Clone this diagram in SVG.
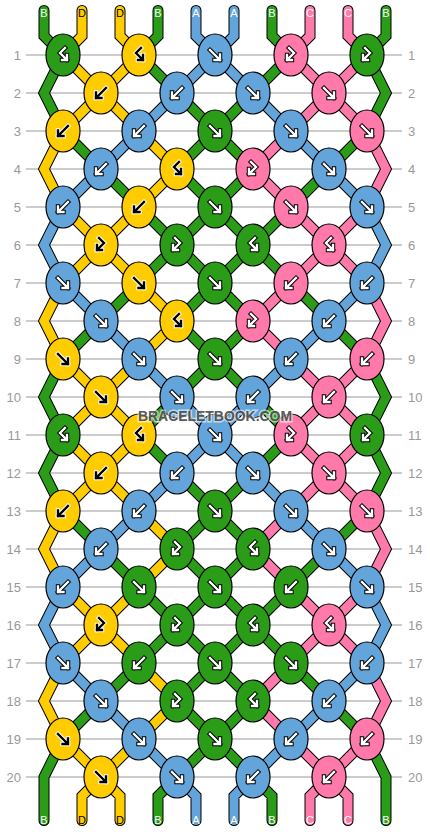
<svg xmlns="http://www.w3.org/2000/svg" xmlns:xlink="http://www.w3.org/1999/xlink" width="430" height="832" viewBox="0 0 430 832">
<style>
.G{fill:#2a9c17}.Y{fill:#ffcc00}.A{fill:#63a4da}.C{fill:#ff7aab}
ellipse{stroke:#000;stroke-width:1.2}
.ar{fill:none;stroke-linecap:square;stroke-linejoin:miter}
.wo{stroke:#000;stroke-width:4.4}.wi{stroke:#fff;stroke-width:2.4}
.bo{stroke:#fff;stroke-width:4.4}.bi{stroke:#000;stroke-width:2.4}
.num{font-family:"Liberation Sans",Arial,sans-serif;font-size:13px;fill:#999}
.lab{font-family:"Liberation Sans",Arial,sans-serif;font-size:11px;text-anchor:middle}
.rl{stroke:#bbb;stroke-width:1.5}
</style>
<defs>
<path id="pF" class="ar" d="M-5,-5L5,5M5,-0.5V5H-0.5"/>
<path id="pB" class="ar" d="M5,-5L-5,5M-5,-0.5V5H0.5"/>
<path id="pFB" class="ar" d="M2,-7L-3,-2L4,5M4,0V5H-1"/>
<path id="pBF" class="ar" d="M-2,-7L3,-2L-4,5M-4,0V5H1"/>
<g id="Fw"><use href="#pF" class="wo"/><use href="#pF" class="wi"/></g>
<g id="Fb"><use href="#pF" class="bo"/><use href="#pF" class="bi"/></g>
<g id="Bw"><use href="#pB" class="wo"/><use href="#pB" class="wi"/></g>
<g id="Bb"><use href="#pB" class="bo"/><use href="#pB" class="bi"/></g>
<g id="FBw"><use href="#pFB" class="wo"/><use href="#pFB" class="wi"/></g>
<g id="FBb"><use href="#pFB" class="bo"/><use href="#pFB" class="bi"/></g>
<g id="BFw"><use href="#pBF" class="wo"/><use href="#pBF" class="wi"/></g>
<g id="BFb"><use href="#pBF" class="bo"/><use href="#pBF" class="bi"/></g>
<path id="cG" d="M139,55L177,93M291,55L253,93M177,93L215,131M253,93L215,131M63,131L101,169M215,131L177,169M215,131L253,169M367,131L329,169M101,169L139,207M177,169L215,207M253,169L215,207M329,169L291,207M139,207L177,245M215,207L177,245M215,207L253,245M291,207L253,245M177,245L139,283M177,245L215,283M253,245L215,283M253,245L291,283M139,283L101,321M215,283L177,321M215,283L253,321M291,283L329,321M101,321L63,359M177,321L215,359M253,321L215,359M329,321L367,359M215,359L177,397M215,359L253,397"/>
<path id="xG" d="M44,10.5L44,36L63,55L44,93L63,131M63,359L44,397L63,435L44,473L63,511M63,739L44,777L44,820.5M386,10.5L386,36L367,55L386,93L367,131M367,359L386,397L367,435L386,473L367,511M367,739L386,777L386,820.5M158,10.5L158,36L139,55M272,10.5L272,36L291,55M177,777L158,796L158,820.5M253,777L272,796L272,820.5M177,397L139,435M253,397L291,435"/>
<path id="cY" d="M63,55L101,93M139,55L101,93M101,93L63,131M101,93L139,131M139,131L177,169M177,169L139,207M63,207L101,245M139,207L101,245M101,245L63,283M101,245L139,283M139,283L177,321M177,321L139,359M63,359L101,397M139,359L101,397"/>
<path id="xY" d="M63,131L44,169L63,207M63,283L44,321L63,359M63,511L44,549L63,587M63,663L44,701L63,739M82,10.5L82,36L63,55M120,10.5L120,36L139,55M101,777L82,796L82,820.5M101,777L120,796L120,820.5M101,397L63,435M101,397L139,435"/>
<path id="cA" d="M215,55L177,93M215,55L253,93M177,93L139,131M253,93L291,131M139,131L101,169M291,131L329,169M101,169L63,207M329,169L367,207M63,283L101,321M367,283L329,321M101,321L139,359M329,321L291,359M139,359L177,397M291,359L253,397"/>
<path id="xA" d="M63,207L44,245L63,283M63,587L44,625L63,663M367,207L386,245L367,283M367,587L386,625L367,663M196,10.5L196,36L215,55M234,10.5L234,36L215,55M177,777L196,796L196,820.5M253,777L234,796L234,820.5M177,397L215,435M253,397L215,435"/>
<path id="cC" d="M291,55L329,93M367,55L329,93M329,93L291,131M329,93L367,131M291,131L253,169M253,169L291,207M291,207L329,245M367,207L329,245M329,245L291,283M329,245L367,283M291,283L253,321M253,321L291,359M291,359L329,397M367,359L329,397"/>
<path id="xC" d="M367,131L386,169L367,207M367,283L386,321L367,359M367,511L386,549L367,587M367,663L386,701L367,739M310,10.5L310,36L291,55M348,10.5L348,36L367,55M329,777L310,796L310,820.5M329,777L348,796L348,820.5M329,397L291,435M329,397L367,435"/>
</defs>
<rect width="430" height="832" fill="#fff"/>
<g id="rows">
<g class="rl">
<line x1="26" y1="55" x2="402" y2="55"/><line x1="26" y1="93" x2="402" y2="93"/><line x1="26" y1="131" x2="402" y2="131"/><line x1="26" y1="169" x2="402" y2="169"/><line x1="26" y1="207" x2="402" y2="207"/><line x1="26" y1="245" x2="402" y2="245"/><line x1="26" y1="283" x2="402" y2="283"/><line x1="26" y1="321" x2="402" y2="321"/><line x1="26" y1="359" x2="402" y2="359"/><line x1="26" y1="397" x2="402" y2="397"/><line x1="26" y1="435" x2="402" y2="435"/><line x1="26" y1="473" x2="402" y2="473"/><line x1="26" y1="511" x2="402" y2="511"/><line x1="26" y1="549" x2="402" y2="549"/><line x1="26" y1="587" x2="402" y2="587"/><line x1="26" y1="625" x2="402" y2="625"/><line x1="26" y1="663" x2="402" y2="663"/><line x1="26" y1="701" x2="402" y2="701"/><line x1="26" y1="739" x2="402" y2="739"/><line x1="26" y1="777" x2="402" y2="777"/>
</g>
<g class="num" text-anchor="end">
<text x="21" y="59.5">1</text><text x="21" y="97.5">2</text><text x="21" y="135.5">3</text><text x="21" y="173.5">4</text><text x="21" y="211.5">5</text><text x="21" y="249.5">6</text><text x="21" y="287.5">7</text><text x="21" y="325.5">8</text><text x="21" y="363.5">9</text><text x="21" y="401.5">10</text><text x="21" y="439.5">11</text><text x="21" y="477.5">12</text><text x="21" y="515.5">13</text><text x="21" y="553.5">14</text><text x="21" y="591.5">15</text><text x="21" y="629.5">16</text><text x="21" y="667.5">17</text><text x="21" y="705.5">18</text><text x="21" y="743.5">19</text><text x="21" y="781.5">20</text>
</g>
<g class="num">
<text x="408" y="59.5">1</text><text x="408" y="97.5">2</text><text x="408" y="135.5">3</text><text x="408" y="173.5">4</text><text x="408" y="211.5">5</text><text x="408" y="249.5">6</text><text x="408" y="287.5">7</text><text x="408" y="325.5">8</text><text x="408" y="363.5">9</text><text x="408" y="401.5">10</text><text x="408" y="439.5">11</text><text x="408" y="477.5">12</text><text x="408" y="515.5">13</text><text x="408" y="553.5">14</text><text x="408" y="591.5">15</text><text x="408" y="629.5">16</text><text x="408" y="667.5">17</text><text x="408" y="705.5">18</text><text x="408" y="743.5">19</text><text x="408" y="781.5">20</text>
</g>
</g>
<g id="connectors" fill="none" stroke-linecap="round" stroke-linejoin="miter">
<g stroke="#000" stroke-width="11">
<use href="#cG"/><use href="#cG" y="380"/><use href="#xG"/>
<use href="#cY"/><use href="#cY" y="380"/><use href="#xY"/>
<use href="#cA"/><use href="#cA" y="380"/><use href="#xA"/>
<use href="#cC"/><use href="#cC" y="380"/><use href="#xC"/>
</g>
<g stroke-width="9">
<g stroke="#2a9c17"><use href="#cG"/><use href="#cG" y="380"/><use href="#xG"/></g>
<g stroke="#ffcc00"><use href="#cY"/><use href="#cY" y="380"/><use href="#xY"/></g>
<g stroke="#63a4da"><use href="#cA"/><use href="#cA" y="380"/><use href="#xA"/></g>
<g stroke="#ff7aab"><use href="#cC"/><use href="#cC" y="380"/><use href="#xC"/></g>
</g>
</g>
<g id="string-labels" class="lab">
<text x="44" y="16.5" fill="#fff">B</text><text x="82" y="16.5" fill="#000">D</text><text x="120" y="16.5" fill="#000">D</text><text x="158" y="16.5" fill="#fff">B</text><text x="196" y="16.5" fill="#fff">A</text><text x="234" y="16.5" fill="#fff">A</text><text x="272" y="16.5" fill="#fff">B</text><text x="310" y="16.5" fill="#fff">C</text><text x="348" y="16.5" fill="#fff">C</text><text x="386" y="16.5" fill="#fff">B</text>
<text x="44" y="824" fill="#fff">B</text><text x="82" y="824" fill="#000">D</text><text x="120" y="824" fill="#000">D</text><text x="158" y="824" fill="#fff">B</text><text x="196" y="824" fill="#fff">A</text><text x="234" y="824" fill="#fff">A</text><text x="272" y="824" fill="#fff">B</text><text x="310" y="824" fill="#fff">C</text><text x="348" y="824" fill="#fff">C</text><text x="386" y="824" fill="#fff">B</text>
</g>
<g id="knots">
<g id="k1-1"><ellipse class="G" cx="63" cy="55" rx="17" ry="21"/><use href="#FBw" x="63" y="55"/></g>
<g id="k1-2"><ellipse class="Y" cx="139" cy="55" rx="17" ry="21"/><use href="#FBb" x="139" y="55"/></g>
<g id="k1-3"><ellipse class="A" cx="215" cy="55" rx="17" ry="21"/><use href="#Fw" x="215" y="55"/></g>
<g id="k1-4"><ellipse class="C" cx="291" cy="55" rx="17" ry="21"/><use href="#BFw" x="291" y="55"/></g>
<g id="k1-5"><ellipse class="G" cx="367" cy="55" rx="17" ry="21"/><use href="#BFw" x="367" y="55"/></g>
<g id="k2-1"><ellipse class="Y" cx="101" cy="93" rx="17" ry="21"/><use href="#Bb" x="101" y="93"/></g>
<g id="k2-2"><ellipse class="A" cx="177" cy="93" rx="17" ry="21"/><use href="#Bw" x="177" y="93"/></g>
<g id="k2-3"><ellipse class="A" cx="253" cy="93" rx="17" ry="21"/><use href="#Fw" x="253" y="93"/></g>
<g id="k2-4"><ellipse class="C" cx="329" cy="93" rx="17" ry="21"/><use href="#Fw" x="329" y="93"/></g>
<g id="k3-1"><ellipse class="Y" cx="63" cy="131" rx="17" ry="21"/><use href="#Bb" x="63" y="131"/></g>
<g id="k3-2"><ellipse class="A" cx="139" cy="131" rx="17" ry="21"/><use href="#Bw" x="139" y="131"/></g>
<g id="k3-3"><ellipse class="G" cx="215" cy="131" rx="17" ry="21"/><use href="#Fw" x="215" y="131"/></g>
<g id="k3-4"><ellipse class="A" cx="291" cy="131" rx="17" ry="21"/><use href="#Fw" x="291" y="131"/></g>
<g id="k3-5"><ellipse class="C" cx="367" cy="131" rx="17" ry="21"/><use href="#Fw" x="367" y="131"/></g>
<g id="k4-1"><ellipse class="A" cx="101" cy="169" rx="17" ry="21"/><use href="#Bw" x="101" y="169"/></g>
<g id="k4-2"><ellipse class="Y" cx="177" cy="169" rx="17" ry="21"/><use href="#FBb" x="177" y="169"/></g>
<g id="k4-3"><ellipse class="C" cx="253" cy="169" rx="17" ry="21"/><use href="#BFw" x="253" y="169"/></g>
<g id="k4-4"><ellipse class="A" cx="329" cy="169" rx="17" ry="21"/><use href="#Fw" x="329" y="169"/></g>
<g id="k5-1"><ellipse class="A" cx="63" cy="207" rx="17" ry="21"/><use href="#Bw" x="63" y="207"/></g>
<g id="k5-2"><ellipse class="Y" cx="139" cy="207" rx="17" ry="21"/><use href="#Bb" x="139" y="207"/></g>
<g id="k5-3"><ellipse class="G" cx="215" cy="207" rx="17" ry="21"/><use href="#Fw" x="215" y="207"/></g>
<g id="k5-4"><ellipse class="C" cx="291" cy="207" rx="17" ry="21"/><use href="#Fw" x="291" y="207"/></g>
<g id="k5-5"><ellipse class="A" cx="367" cy="207" rx="17" ry="21"/><use href="#Fw" x="367" y="207"/></g>
<g id="k6-1"><ellipse class="Y" cx="101" cy="245" rx="17" ry="21"/><use href="#BFb" x="101" y="245"/></g>
<g id="k6-2"><ellipse class="G" cx="177" cy="245" rx="17" ry="21"/><use href="#BFw" x="177" y="245"/></g>
<g id="k6-3"><ellipse class="G" cx="253" cy="245" rx="17" ry="21"/><use href="#FBw" x="253" y="245"/></g>
<g id="k6-4"><ellipse class="C" cx="329" cy="245" rx="17" ry="21"/><use href="#FBw" x="329" y="245"/></g>
<g id="k7-1"><ellipse class="A" cx="63" cy="283" rx="17" ry="21"/><use href="#Fw" x="63" y="283"/></g>
<g id="k7-2"><ellipse class="Y" cx="139" cy="283" rx="17" ry="21"/><use href="#Fb" x="139" y="283"/></g>
<g id="k7-3"><ellipse class="G" cx="215" cy="283" rx="17" ry="21"/><use href="#Fw" x="215" y="283"/></g>
<g id="k7-4"><ellipse class="C" cx="291" cy="283" rx="17" ry="21"/><use href="#Bw" x="291" y="283"/></g>
<g id="k7-5"><ellipse class="A" cx="367" cy="283" rx="17" ry="21"/><use href="#Bw" x="367" y="283"/></g>
<g id="k8-1"><ellipse class="A" cx="101" cy="321" rx="17" ry="21"/><use href="#Fw" x="101" y="321"/></g>
<g id="k8-2"><ellipse class="Y" cx="177" cy="321" rx="17" ry="21"/><use href="#FBb" x="177" y="321"/></g>
<g id="k8-3"><ellipse class="C" cx="253" cy="321" rx="17" ry="21"/><use href="#BFw" x="253" y="321"/></g>
<g id="k8-4"><ellipse class="A" cx="329" cy="321" rx="17" ry="21"/><use href="#Bw" x="329" y="321"/></g>
<g id="k9-1"><ellipse class="Y" cx="63" cy="359" rx="17" ry="21"/><use href="#Fb" x="63" y="359"/></g>
<g id="k9-2"><ellipse class="A" cx="139" cy="359" rx="17" ry="21"/><use href="#Fw" x="139" y="359"/></g>
<g id="k9-3"><ellipse class="G" cx="215" cy="359" rx="17" ry="21"/><use href="#Fw" x="215" y="359"/></g>
<g id="k9-4"><ellipse class="A" cx="291" cy="359" rx="17" ry="21"/><use href="#Bw" x="291" y="359"/></g>
<g id="k9-5"><ellipse class="C" cx="367" cy="359" rx="17" ry="21"/><use href="#Bw" x="367" y="359"/></g>
<g id="k10-1"><ellipse class="Y" cx="101" cy="397" rx="17" ry="21"/><use href="#Fb" x="101" y="397"/></g>
<g id="k10-2"><ellipse class="A" cx="177" cy="397" rx="17" ry="21"/><use href="#Fw" x="177" y="397"/></g>
<g id="k10-3"><ellipse class="A" cx="253" cy="397" rx="17" ry="21"/><use href="#Bw" x="253" y="397"/></g>
<g id="k10-4"><ellipse class="C" cx="329" cy="397" rx="17" ry="21"/><use href="#Bw" x="329" y="397"/></g>
<g id="k11-1"><ellipse class="G" cx="63" cy="435" rx="17" ry="21"/><use href="#FBw" x="63" y="435"/></g>
<g id="k11-2"><ellipse class="Y" cx="139" cy="435" rx="17" ry="21"/><use href="#FBb" x="139" y="435"/></g>
<g id="k11-3"><ellipse class="A" cx="215" cy="435" rx="17" ry="21"/><use href="#Fw" x="215" y="435"/></g>
<g id="k11-4"><ellipse class="C" cx="291" cy="435" rx="17" ry="21"/><use href="#BFw" x="291" y="435"/></g>
<g id="k11-5"><ellipse class="G" cx="367" cy="435" rx="17" ry="21"/><use href="#BFw" x="367" y="435"/></g>
<g id="k12-1"><ellipse class="Y" cx="101" cy="473" rx="17" ry="21"/><use href="#Bb" x="101" y="473"/></g>
<g id="k12-2"><ellipse class="A" cx="177" cy="473" rx="17" ry="21"/><use href="#Bw" x="177" y="473"/></g>
<g id="k12-3"><ellipse class="A" cx="253" cy="473" rx="17" ry="21"/><use href="#Fw" x="253" y="473"/></g>
<g id="k12-4"><ellipse class="C" cx="329" cy="473" rx="17" ry="21"/><use href="#Fw" x="329" y="473"/></g>
<g id="k13-1"><ellipse class="Y" cx="63" cy="511" rx="17" ry="21"/><use href="#Bb" x="63" y="511"/></g>
<g id="k13-2"><ellipse class="A" cx="139" cy="511" rx="17" ry="21"/><use href="#Bw" x="139" y="511"/></g>
<g id="k13-3"><ellipse class="G" cx="215" cy="511" rx="17" ry="21"/><use href="#Fw" x="215" y="511"/></g>
<g id="k13-4"><ellipse class="A" cx="291" cy="511" rx="17" ry="21"/><use href="#Fw" x="291" y="511"/></g>
<g id="k13-5"><ellipse class="C" cx="367" cy="511" rx="17" ry="21"/><use href="#Fw" x="367" y="511"/></g>
<g id="k14-1"><ellipse class="A" cx="101" cy="549" rx="17" ry="21"/><use href="#Bw" x="101" y="549"/></g>
<g id="k14-2"><ellipse class="G" cx="177" cy="549" rx="17" ry="21"/><use href="#BFw" x="177" y="549"/></g>
<g id="k14-3"><ellipse class="G" cx="253" cy="549" rx="17" ry="21"/><use href="#FBw" x="253" y="549"/></g>
<g id="k14-4"><ellipse class="A" cx="329" cy="549" rx="17" ry="21"/><use href="#Fw" x="329" y="549"/></g>
<g id="k15-1"><ellipse class="A" cx="63" cy="587" rx="17" ry="21"/><use href="#Bw" x="63" y="587"/></g>
<g id="k15-2"><ellipse class="G" cx="139" cy="587" rx="17" ry="21"/><use href="#Fw" x="139" y="587"/></g>
<g id="k15-3"><ellipse class="G" cx="215" cy="587" rx="17" ry="21"/><use href="#Fw" x="215" y="587"/></g>
<g id="k15-4"><ellipse class="G" cx="291" cy="587" rx="17" ry="21"/><use href="#Bw" x="291" y="587"/></g>
<g id="k15-5"><ellipse class="A" cx="367" cy="587" rx="17" ry="21"/><use href="#Fw" x="367" y="587"/></g>
<g id="k16-1"><ellipse class="Y" cx="101" cy="625" rx="17" ry="21"/><use href="#BFb" x="101" y="625"/></g>
<g id="k16-2"><ellipse class="G" cx="177" cy="625" rx="17" ry="21"/><use href="#BFw" x="177" y="625"/></g>
<g id="k16-3"><ellipse class="G" cx="253" cy="625" rx="17" ry="21"/><use href="#FBw" x="253" y="625"/></g>
<g id="k16-4"><ellipse class="C" cx="329" cy="625" rx="17" ry="21"/><use href="#FBw" x="329" y="625"/></g>
<g id="k17-1"><ellipse class="A" cx="63" cy="663" rx="17" ry="21"/><use href="#Fw" x="63" y="663"/></g>
<g id="k17-2"><ellipse class="G" cx="139" cy="663" rx="17" ry="21"/><use href="#Bw" x="139" y="663"/></g>
<g id="k17-3"><ellipse class="G" cx="215" cy="663" rx="17" ry="21"/><use href="#Fw" x="215" y="663"/></g>
<g id="k17-4"><ellipse class="G" cx="291" cy="663" rx="17" ry="21"/><use href="#Fw" x="291" y="663"/></g>
<g id="k17-5"><ellipse class="A" cx="367" cy="663" rx="17" ry="21"/><use href="#Bw" x="367" y="663"/></g>
<g id="k18-1"><ellipse class="A" cx="101" cy="701" rx="17" ry="21"/><use href="#Fw" x="101" y="701"/></g>
<g id="k18-2"><ellipse class="G" cx="177" cy="701" rx="17" ry="21"/><use href="#BFw" x="177" y="701"/></g>
<g id="k18-3"><ellipse class="G" cx="253" cy="701" rx="17" ry="21"/><use href="#FBw" x="253" y="701"/></g>
<g id="k18-4"><ellipse class="A" cx="329" cy="701" rx="17" ry="21"/><use href="#Bw" x="329" y="701"/></g>
<g id="k19-1"><ellipse class="Y" cx="63" cy="739" rx="17" ry="21"/><use href="#Fb" x="63" y="739"/></g>
<g id="k19-2"><ellipse class="A" cx="139" cy="739" rx="17" ry="21"/><use href="#Fw" x="139" y="739"/></g>
<g id="k19-3"><ellipse class="G" cx="215" cy="739" rx="17" ry="21"/><use href="#Fw" x="215" y="739"/></g>
<g id="k19-4"><ellipse class="A" cx="291" cy="739" rx="17" ry="21"/><use href="#Bw" x="291" y="739"/></g>
<g id="k19-5"><ellipse class="C" cx="367" cy="739" rx="17" ry="21"/><use href="#Bw" x="367" y="739"/></g>
<g id="k20-1"><ellipse class="Y" cx="101" cy="777" rx="17" ry="21"/><use href="#Fb" x="101" y="777"/></g>
<g id="k20-2"><ellipse class="A" cx="177" cy="777" rx="17" ry="21"/><use href="#Fw" x="177" y="777"/></g>
<g id="k20-3"><ellipse class="A" cx="253" cy="777" rx="17" ry="21"/><use href="#Bw" x="253" y="777"/></g>
<g id="k20-4"><ellipse class="C" cx="329" cy="777" rx="17" ry="21"/><use href="#Bw" x="329" y="777"/></g>
</g>
<g id="watermark">
<text x="215" y="421" text-anchor="middle" textLength="154" lengthAdjust="spacingAndGlyphs" font-family="'Liberation Sans',Arial,sans-serif" font-size="15" font-weight="bold" fill="#444" fill-opacity="0.9" stroke="#fff" stroke-opacity="0.6" stroke-width="3" paint-order="stroke">BRACELETBOOK.COM</text>
</g>
</svg>
